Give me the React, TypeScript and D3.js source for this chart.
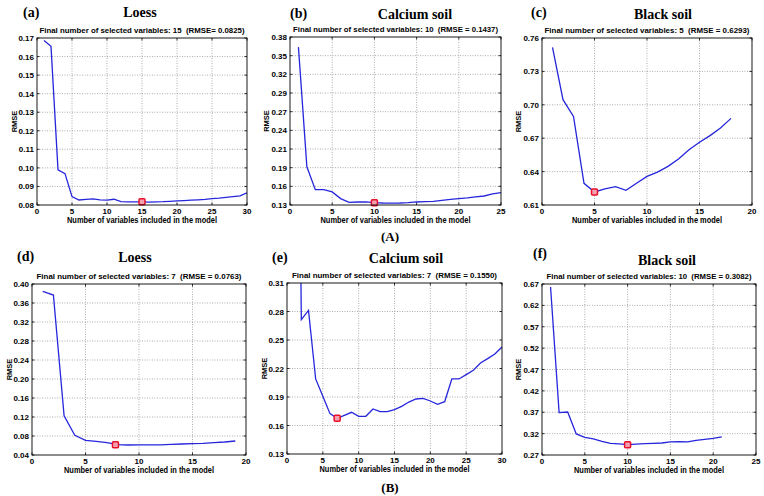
import React from "react";
import * as d3 from "d3";

// ---- Data ----
const xA = d3.range(1, 31);
const yA = [0.1686, 0.1655, 0.099, 0.0969, 0.0845, 0.0827, 0.083, 0.0833, 0.0828, 0.0826, 0.0831, 0.0818, 0.0817, 0.0817, 0.0817, 0.0815, 0.0817, 0.0818, 0.082, 0.0822, 0.0824, 0.0826, 0.0828, 0.083, 0.0834, 0.0837, 0.0841, 0.0845, 0.0849, 0.0866];
const xB = d3.range(1, 26);
const yB = [0.365, 0.1868, 0.1529, 0.1529, 0.1494, 0.1395, 0.134, 0.1345, 0.1345, 0.1335, 0.133, 0.1328, 0.133, 0.1335, 0.1345, 0.135, 0.1355, 0.137, 0.1385, 0.1395, 0.1405, 0.142, 0.1434, 0.1464, 0.1484];
const xC = d3.range(1, 19);
const yC = [0.7516, 0.7046, 0.6896, 0.6295, 0.6217, 0.6244, 0.6265, 0.6232, 0.6295, 0.6357, 0.6396, 0.6447, 0.6513, 0.6597, 0.6663, 0.6723, 0.6792, 0.6878];
const xD = d3.range(1, 20);
const yD = [0.3845, 0.3768, 0.1223, 0.0815, 0.0709, 0.0688, 0.066, 0.0618, 0.0611, 0.0615, 0.0615, 0.0615, 0.0625, 0.0632, 0.0639, 0.0646, 0.066, 0.0674, 0.0695];
const xE = d3.range(1, 31);
const yE = [1.0, 0.2714, 0.2812, 0.209, 0.1907, 0.1725, 0.1676, 0.1707, 0.1739, 0.1697, 0.1697, 0.1774, 0.1746, 0.1746, 0.1767, 0.1802, 0.1847, 0.1879, 0.1886, 0.1858, 0.1823, 0.1851, 0.209, 0.209, 0.2135, 0.2181, 0.2258, 0.2304, 0.2353, 0.2426];
const xF = d3.range(1, 22);
const yF = [0.663, 0.3692, 0.3706, 0.3192, 0.3114, 0.3075, 0.302, 0.2973, 0.2958, 0.2942, 0.2955, 0.2966, 0.2973, 0.2981, 0.3005, 0.3012, 0.3005, 0.3044, 0.3067, 0.3091, 0.3122];

const yTicksA = ["0.08", "0.09", "0.10", "0.11", "0.12", "0.13", "0.14", "0.15", "0.16", "0.17"];
const yTicksB = ["0.13", "0.16", "0.19", "0.21", "0.24", "0.27", "0.29", "0.32", "0.35", "0.38"];
const yTicksC = ["0.61", "0.64", "0.67", "0.70", "0.73", "0.76"];
const yTicksD = ["0.04", "0.08", "0.12", "0.16", "0.20", "0.24", "0.28", "0.32", "0.36", "0.40"];
const yTicksE = ["0.13", "0.16", "0.19", "0.22", "0.25", "0.28", "0.31"];
const yTicksF = ["0.27", "0.32", "0.37", "0.42", "0.47", "0.52", "0.57", "0.62", "0.67"];

const xTicksA = [0, 5, 10, 15, 20, 25, 30];
const xTicksB = [0, 5, 10, 15, 20, 25];
const xTicksC = [0, 5, 10, 15, 20];
const xTicksD = [0, 5, 10, 15, 20];
const xTicksE = [0, 5, 10, 15, 20, 25, 30];
const xTicksF = [0, 5, 10, 15, 20, 25];

const titles = ["Loess", "Calcium soil", "Black soil", "Loess", "Calcium soil", "Black soil"];
const letters = ["(a)", "(b)", "(c)", "(d)", "(e)", "(f)"];
const subtitles = [
  "Final number of selected variables: 15  (RMSE= 0.0825)",
  "Final number of selected variables: 10  (RMSE = 0.1437)",
  "Final number of selected variables: 5  (RMSE = 0.6293)",
  "Final number of selected variables: 7  (RMSE = 0.0763)",
  "Final number of selected variables: 7  (RMSE = 0.1550)",
  "Final number of selected variables: 10  (RMSE = 0.3082)",
];
const markers: [number, number][] = [
  [15, 0.0818],
  [10, 0.1335],
  [5, 0.6217],
  [7.8, 0.0618],
  [7, 0.1676],
  [10, 0.2942],
];

type PanelCfg = {
  box: [number, number, number, number]; // left, top, right, bottom
  xs: number[];
  ys: number[];
  xMax: number;
  xTicks: number[];
  yLabels: string[];
  idx: number;
  titleX: number;
  titleY: number;
  letterX: number;
  letterY: number;
  ylabelX: number;
};

const SANS = "'Liberation Sans', Arial, sans-serif";
const SERIF = "'Liberation Serif', 'Times New Roman', serif";

const panels: PanelCfg[] = [
  { box: [37, 38, 247, 205], xs: xA, ys: yA, xMax: 30, xTicks: xTicksA, yLabels: yTicksA, idx: 0, titleX: 140, titleY: 17, letterX: 23, letterY: 17, ylabelX: 14 },
  { box: [290, 37, 501, 205], xs: xB, ys: yB, xMax: 25, xTicks: xTicksB, yLabels: yTicksB, idx: 1, titleX: 415, titleY: 19, letterX: 290, letterY: 18, ylabelX: 266 },
  { box: [542, 38, 752, 205], xs: xC, ys: yC, xMax: 20, xTicks: xTicksC, yLabels: yTicksC, idx: 2, titleX: 663, titleY: 19, letterX: 531, letterY: 17, ylabelX: 518 },
  { box: [32, 284, 246, 455], xs: xD, ys: yD, xMax: 20, xTicks: xTicksD, yLabels: yTicksD, idx: 3, titleX: 135, titleY: 262, letterX: 17, letterY: 261, ylabelX: 9 },
  { box: [287, 283, 502, 454], xs: xE, ys: yE, xMax: 30, xTicks: xTicksE, yLabels: yTicksE, idx: 4, titleX: 406, titleY: 263, letterX: 272, letterY: 262, ylabelX: 264 },
  { box: [542, 284, 756, 455], xs: xF, ys: yF, xMax: 25, xTicks: xTicksF, yLabels: yTicksF, idx: 5, titleX: 667, titleY: 265, letterX: 533, letterY: 258, ylabelX: 518 },
];

function Panel({ p }: { p: PanelCfg }) {
  const [l, t, r, b] = p.box;
  const yVals = p.yLabels.map(Number);
  const y0 = yVals[0];
  const y1 = yVals[yVals.length - 1];
  const yTickPos = p.yLabels.map((_, i) => y0 + ((y1 - y0) * i) / (p.yLabels.length - 1));
  const x = d3.scaleLinear().domain([0, p.xMax]).range([l, r]);
  const y = d3.scaleLinear().domain([y0, y1]).range([b, t]);
  const line = d3
    .line<number>()
    .x((_, i) => x(p.xs[i]))
    .y((d) => y(d));
  const clipId = `clip${p.idx}`;
  const [mx, my] = markers[p.idx];
  const cx = (l + r) / 2;
  const cy = (t + b) / 2;
  return (
    <g>
      <defs>
        <clipPath id={clipId}>
          <rect x={l} y={t} width={r - l} height={b - t} />
        </clipPath>
      </defs>
      <rect x={l} y={t} width={r - l} height={b - t} fill="#fff" />
      {p.xTicks.slice(1, -1).map((v) => (
        <line key={"gx" + v} x1={x(v)} x2={x(v)} y1={t} y2={b} stroke="#8a8a8a" strokeWidth={0.7} strokeDasharray="1,1.5" />
      ))}
      {yTickPos.slice(1, -1).map((v, i) => (
        <line key={"gy" + i} x1={l} x2={r} y1={y(v)} y2={y(v)} stroke="#8a8a8a" strokeWidth={0.7} strokeDasharray="1,1.5" />
      ))}
      {p.xTicks.map((v) => (
        <g key={"tx" + v}>
          <line x1={x(v)} x2={x(v)} y1={b} y2={b - 2.5} stroke="#000" strokeWidth={0.8} />
          <line x1={x(v)} x2={x(v)} y1={t} y2={t + 2.5} stroke="#000" strokeWidth={0.8} />
          <text x={x(v)} y={b + 9} textAnchor="middle" fontFamily={SANS} fontWeight="bold" fontSize={8} fill="#000">
            {v}
          </text>
        </g>
      ))}
      {yTickPos.map((v, i) => (
        <g key={"ty" + i}>
          <line x1={l} x2={l + 2.5} y1={y(v)} y2={y(v)} stroke="#000" strokeWidth={0.8} />
          <line x1={r} x2={r - 2.5} y1={y(v)} y2={y(v)} stroke="#000" strokeWidth={0.8} />
          <text x={l - 3} y={y(v) + 3} textAnchor="end" fontFamily={SANS} fontWeight="bold" fontSize={8} fill="#000">
            {p.yLabels[i]}
          </text>
        </g>
      ))}
      <path d={line(p.ys) || ""} fill="none" stroke="#2626dc" strokeWidth={1.3} clipPath={`url(#${clipId})`} />
      <rect x={x(mx) - 3} y={y(my) - 3} width={6} height={6} rx={1} fill="#f3a0b0" stroke="#e8102a" strokeWidth={1.5} />
      <rect x={l} y={t} width={r - l} height={b - t} fill="none" stroke="#000" strokeWidth={0.9} />
      <text x={cx} y={t - 5} textAnchor="middle" fontFamily={SANS} fontWeight="bold" fontSize={8} fill="#000" style={{ whiteSpace: "pre" }} textLength={205} lengthAdjust="spacingAndGlyphs">
        {subtitles[p.idx]}
      </text>
      <text x={cx} y={b + 18} textAnchor="middle" fontFamily={SANS} fontWeight="bold" fontSize={8.5} fill="#000" textLength={150} lengthAdjust="spacingAndGlyphs">
        Number of variables included in the model
      </text>
      <text transform={`translate(${p.ylabelX + 3},${cy}) rotate(-90)`} textAnchor="middle" fontFamily={SANS} fontWeight="bold" fontSize={7.5} fill="#000">
        RMSE
      </text>
      <text x={p.titleX} y={p.titleY} textAnchor="middle" fontFamily={SERIF} fontWeight="bold" fontSize={14} fill="#000">
        {titles[p.idx]}
      </text>
      <text x={p.letterX} y={p.letterY} fontFamily={SERIF} fontWeight="bold" fontSize={14} fill="#000">
        {letters[p.idx]}
      </text>
    </g>
  );
}

export default function App() {
  return (
    <svg width={764} height={496} style={{ position: "absolute", left: 0, top: 0, background: "#fff" }}>
      <rect width={764} height={496} fill="#fff" />
      {panels.map((p) => (
        <Panel key={p.idx} p={p} />
      ))}
      <text x={390} y={241} textAnchor="middle" fontFamily={SERIF} fontWeight="bold" fontSize={13} fill="#000">
        (A)
      </text>
      <text x={390} y={492} textAnchor="middle" fontFamily={SERIF} fontWeight="bold" fontSize={13} fill="#000">
        (B)
      </text>
    </svg>
  );
}
